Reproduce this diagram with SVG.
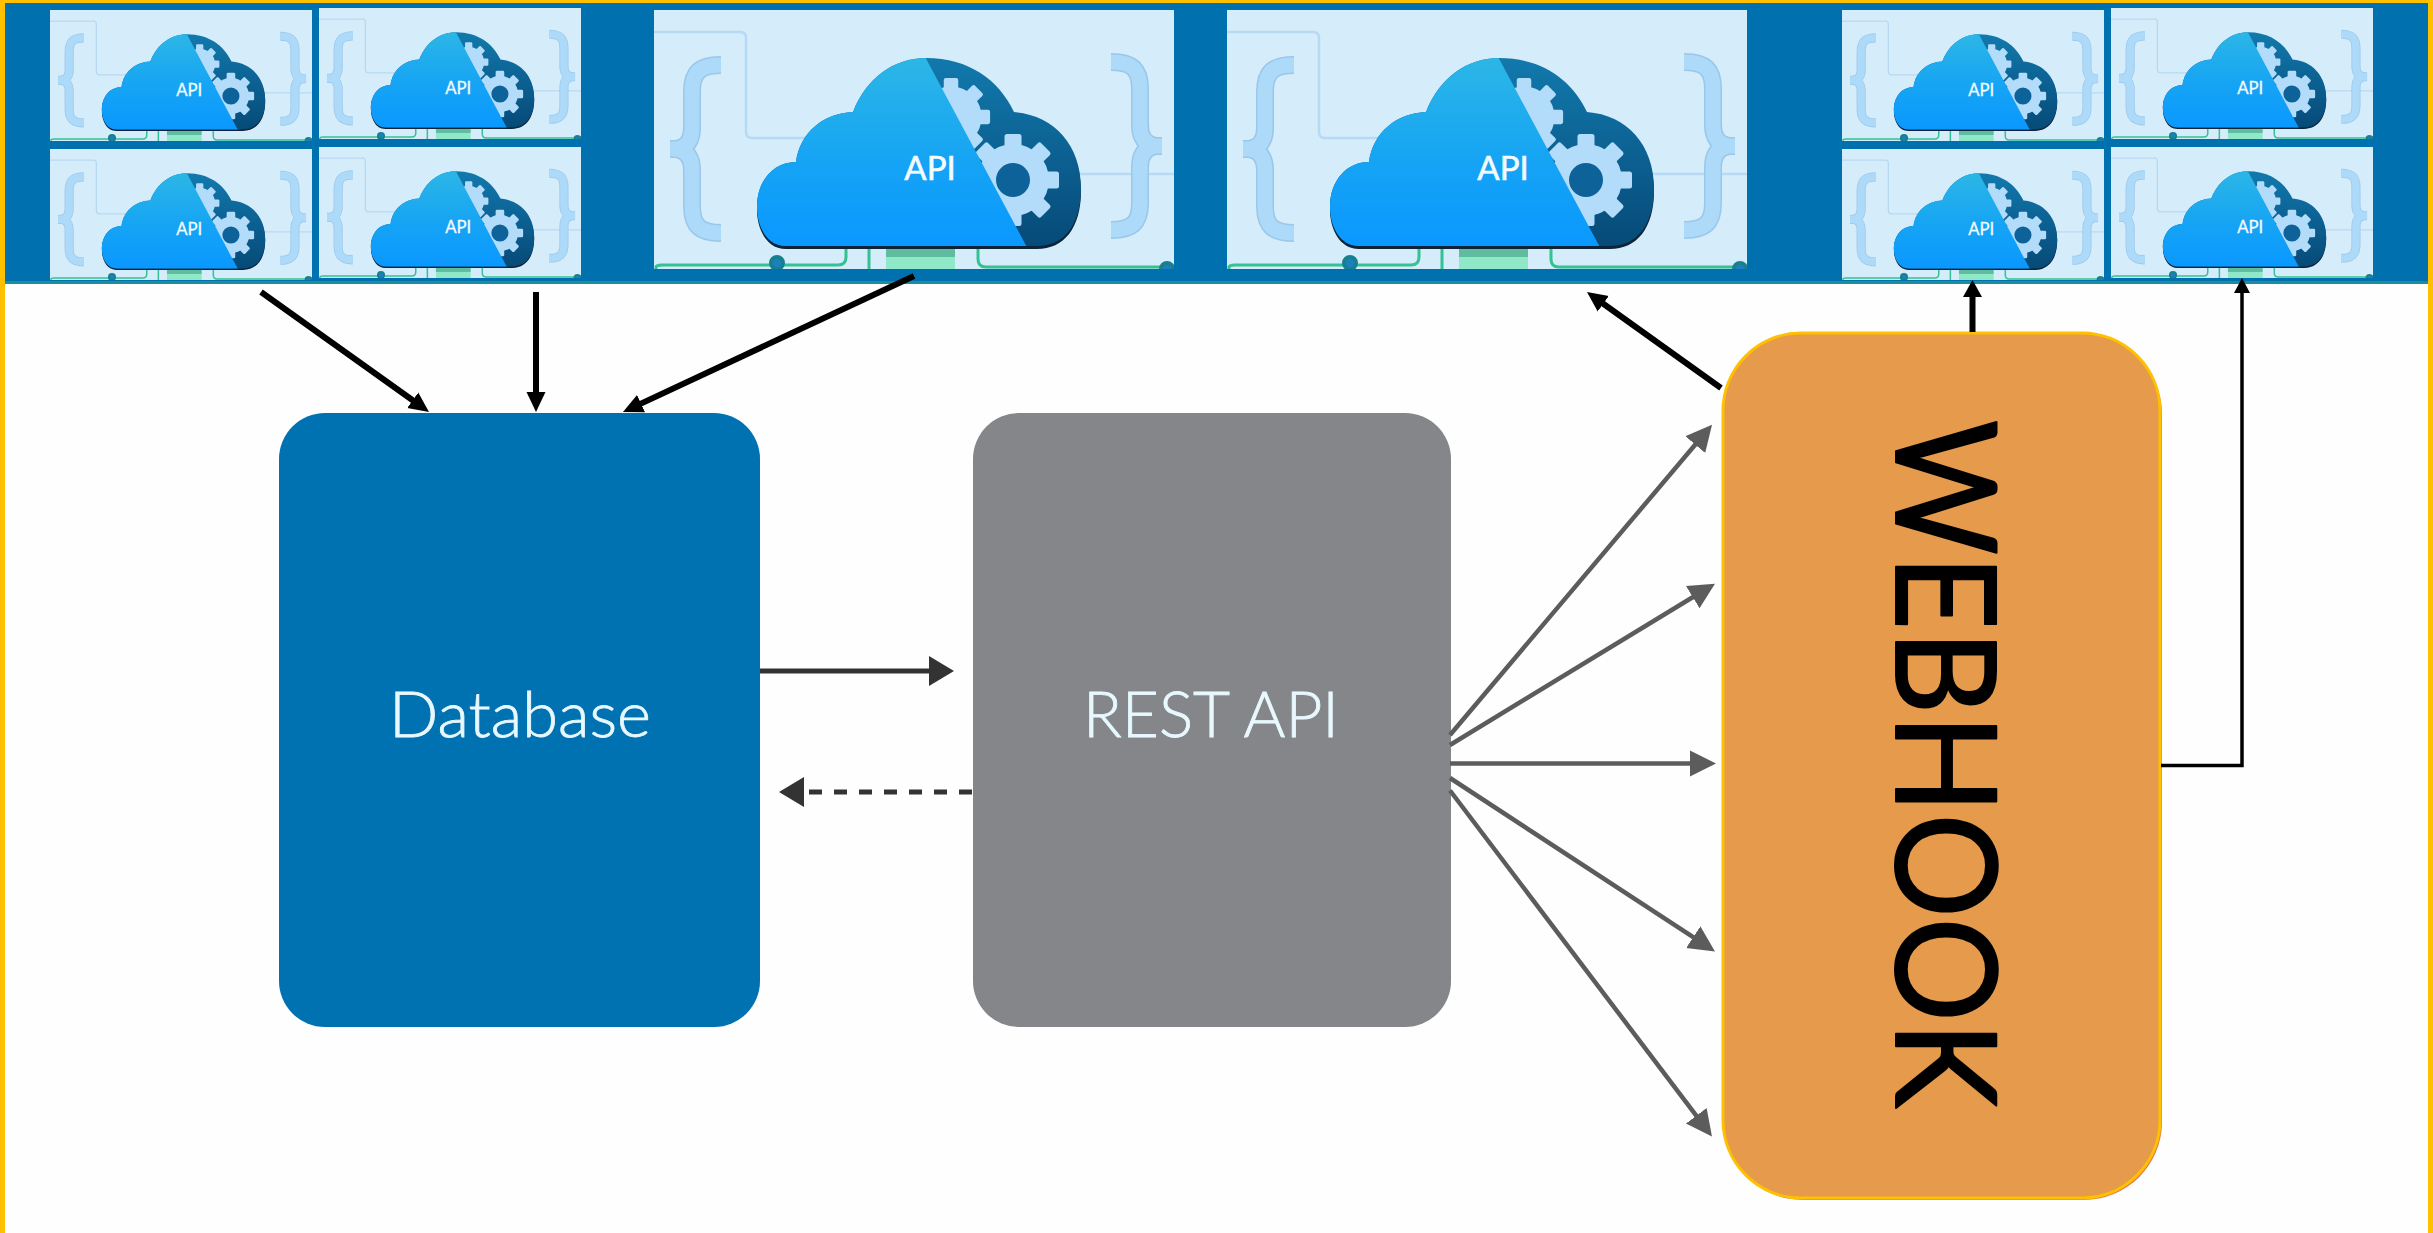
<svg xmlns="http://www.w3.org/2000/svg" width="2433" height="1233" viewBox="0 0 2433 1233">
<style>
.api{font-family:"Lato","Liberation Sans",sans-serif;font-size:33px;font-weight:400;fill:#f4fbff;stroke:#f4fbff;stroke-width:.6;text-anchor:middle}
.label{font-family:"Lato","Liberation Sans",sans-serif;font-size:64px;font-weight:300;fill:#e8f8ff;stroke:#e8f8ff;stroke-width:.8;text-anchor:middle}
.fan{stroke:#5c5c5c;stroke-width:4.5;fill:none;marker-end:url(#hFan)}
.blk{stroke:#000;stroke-width:6;fill:none;marker-end:url(#hBlk)}
.dk{stroke:#333;fill:none}
</style>
<defs>
<marker id="hFan" markerUnits="userSpaceOnUse" markerWidth="30" markerHeight="30" refX="10" refY="14" orient="auto"><path d="M0 1L26 14L0 27z" fill="#5c5c5c"/></marker>
<marker id="hBlk" markerUnits="userSpaceOnUse" markerWidth="30" markerHeight="30" refX="12" refY="12" orient="auto"><path d="M0 2.500L20 12L0 21.500z" fill="#000"/></marker>
<marker id="hDk" markerUnits="userSpaceOnUse" markerWidth="34" markerHeight="34" refX="8" refY="16" orient="auto"><path d="M0 1L25 16L0 31z" fill="#333"/></marker>
<linearGradient id="gLight" x1="0" y1="0" x2="0" y2="1"><stop offset="0" stop-color="#2cb6e6"/><stop offset=".55" stop-color="#15a4f4"/><stop offset="1" stop-color="#0a98ff"/></linearGradient>
<linearGradient id="gDark" x1="0" y1="0" x2="0" y2="1"><stop offset="0" stop-color="#1279ad"/><stop offset="1" stop-color="#064a78"/></linearGradient>
<clipPath id="cTile"><rect width="520" height="259"/></clipPath>
<clipPath id="cLeft"><path d="M0 0H246L376 243H0z"/></clipPath>
<path id="cloud" d="M132 236C112 236 103 215 103 197C103 170 120 152 142 152C146 122 170 103 199 102C212 68 240 48 272 48C315 48 345 70 360 102C400 105 427 135 427 178C427 215 410 236 383 236Z"/>
<rect id="tooth" x="-8.500" y="-46" width="17" height="14" rx="2.500"/>
<g id="gear" fill="#b2dcfa">
<circle r="36"/>
<use href="#tooth"/><use href="#tooth" transform="rotate(45)"/><use href="#tooth" transform="rotate(90)"/><use href="#tooth" transform="rotate(135)"/><use href="#tooth" transform="rotate(180)"/><use href="#tooth" transform="rotate(225)"/><use href="#tooth" transform="rotate(270)"/><use href="#tooth" transform="rotate(315)"/>
</g>
<path id="braceL" d="M67 55C46 55 38 62 38 82V118C38 130 33 138 22 139C33 140 38 148 38 160V196C38 216 46 223 67 223M16 139H38"/>
<path id="braceR" d="M457 52C478 52 486 59 486 79V115C486 127 491 135 502 136C491 137 486 145 486 157V193C486 213 478 220 457 220M508 136H486"/>
<g id="tile" clip-path="url(#cTile)">
<rect width="520" height="259" fill="#d5ecfb"/>
<path d="M0 22H86Q92 22 92 28V122Q92 128 98 128H160M420 164H520" fill="none" stroke="#b8d9f3" stroke-width="2.500"/>
<g fill="none">
<use href="#braceL" stroke="#9ac7ea" stroke-width="18"/><use href="#braceL" stroke="#aedaf9" stroke-width="15"/>
<use href="#braceR" stroke="#9ac7ea" stroke-width="18"/><use href="#braceR" stroke="#aedaf9" stroke-width="15"/>
<path d="M2 259V257Q2 255 8 255H184Q192 255 192 247V236M215 236V259M324 236V249Q324 257 332 257H512" stroke="#34c292" stroke-width="3"/>
</g>
<rect x="232" y="236" width="69" height="11" fill="#5fbc9f"/>
<rect x="232" y="247" width="69" height="12" fill="#8fe9c8"/>
<circle cx="123" cy="253" r="6" fill="#1c7fc4" stroke="#18808c" stroke-width="4"/>
<circle cx="513" cy="259" r="6" fill="#1c7fc4" stroke="#18808c" stroke-width="4"/>
<use href="#cloud" y="3" fill="#0c2438"/>
<use href="#cloud" fill="url(#gDark)"/>
<use href="#gear" transform="translate(359 170)"/>
<use href="#gear" transform="translate(297 107) scale(.85)"/>
<circle cx="359" cy="170" r="17" fill="#0d629a"/>
<use href="#cloud" fill="url(#gLight)" clip-path="url(#cLeft)"/>
</g>
</defs>

<rect width="2433" height="1233" fill="#fefefe"/>
<rect y="0" width="2433" height="284" fill="#0071ae"/>
<rect y="281" width="2433" height="3" fill="#1b8d9f"/>
<path d="M0 0H2433V1233H2428V3H5V1233H0Z" fill="#ffc000"/>

<g id="api-tile-1" transform="translate(50 10) scale(.504 .506)"><use href="#tile"/><text class="api" x="276" y="170">API</text></g>
<g id="api-tile-2" transform="translate(319 8) scale(.504 .506)"><use href="#tile"/><text class="api" x="276" y="170">API</text></g>
<g id="api-tile-3" transform="translate(50 149) scale(.504 .506)"><use href="#tile"/><text class="api" x="276" y="170">API</text></g>
<g id="api-tile-4" transform="translate(319 147) scale(.504 .506)"><use href="#tile"/><text class="api" x="276" y="170">API</text></g>
<g id="api-tile-5" transform="translate(654 10)"><use href="#tile"/><text class="api" x="276" y="170">API</text></g>
<g id="api-tile-6" transform="translate(1227 10)"><use href="#tile"/><text class="api" x="276" y="170">API</text></g>
<g id="api-tile-7" transform="translate(1842 10) scale(.504 .506)"><use href="#tile"/><text class="api" x="276" y="170">API</text></g>
<g id="api-tile-8" transform="translate(2111 8) scale(.504 .506)"><use href="#tile"/><text class="api" x="276" y="170">API</text></g>
<g id="api-tile-9" transform="translate(1842 149) scale(.504 .506)"><use href="#tile"/><text class="api" x="276" y="170">API</text></g>
<g id="api-tile-10" transform="translate(2111 147) scale(.504 .506)"><use href="#tile"/><text class="api" x="276" y="170">API</text></g>

<g id="database"><rect x="279" y="413" width="481" height="614" rx="46" fill="#0071b1"/><text class="label" x="520" y="737" textLength="262" lengthAdjust="spacingAndGlyphs">Database</text></g>
<g id="rest-api"><rect x="973" y="413" width="478" height="614" rx="46" fill="#848689"/><text class="label" x="1211" y="737" textLength="256" lengthAdjust="spacingAndGlyphs">REST API</text></g>
<g id="webhook">
<rect x="1725" y="336" width="437" height="864" rx="78" fill="#dd7f55"/>
<rect x="1723" y="333" width="437" height="865" rx="78" fill="#e59a4c" stroke="#ffc000" stroke-width="3"/>
<text transform="translate(1896 420) rotate(90)" font-family="Lato,'Liberation Sans',sans-serif" font-size="139" textLength="688" lengthAdjust="spacingAndGlyphs" fill="#000" stroke="#000" stroke-width="2" stroke-linejoin="round">WEBHOOK</text>
</g>

<g id="connectors">
<path class="blk" d="M261 292L422.500 407.300"/>
<path class="blk" d="M536 292V404"/>
<path class="blk" d="M914 276L630.200 408.600"/>
<path class="blk" d="M1721 388L1593.500 296.700"/>
<path d="M1972.500 332V295" stroke="#000" stroke-width="6" fill="none"/><path d="M1963 297L1972.500 280L1982 297Z" fill="#000"/>
<path d="M2161 765.500H2242V290" stroke="#000" stroke-width="3.500" fill="none"/><path d="M2234 293L2242 278L2250 293Z" fill="#000"/>
<path class="dk" d="M760 671H937" stroke-width="5" marker-end="url(#hDk)"/>
<path class="dk" d="M972 792H796" stroke-width="5" stroke-dasharray="13 12" marker-end="url(#hDk)"/>
<path class="fan" d="M1450 735L1701.700 437"/>
<path class="fan" d="M1450 745L1701.300 592"/>
<path class="fan" d="M1450 763.500H1700"/>
<path class="fan" d="M1450 778L1701.600 942.700"/>
<path class="fan" d="M1450 790.500L1702.300 1123.700"/>
</g>
</svg>
